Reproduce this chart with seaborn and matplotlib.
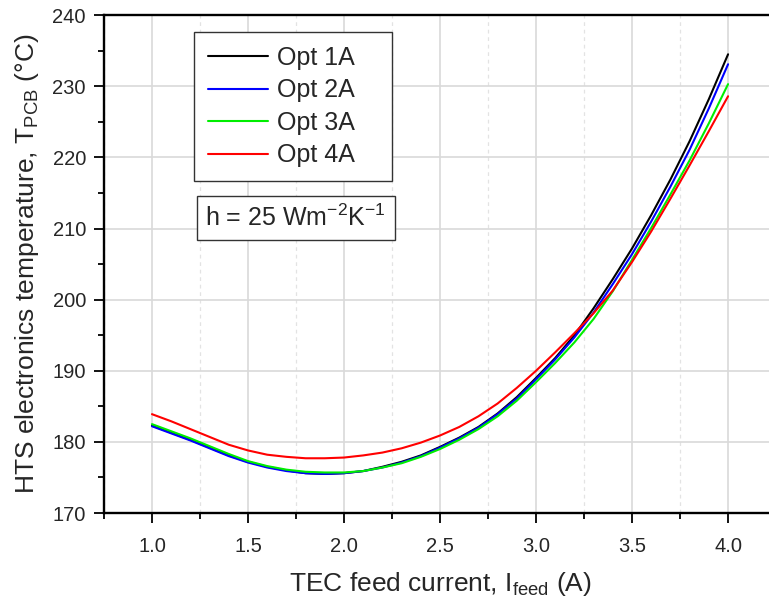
import numpy as np
import pandas as pd
import seaborn as sns
import matplotlib.pyplot as plt
from matplotlib.ticker import MultipleLocator

# data
current = [1.0, 1.1, 1.2, 1.3, 1.4, 1.5, 1.6, 1.7, 1.8, 1.9, 2.0,
           2.1, 2.2, 2.3, 2.4, 2.5, 2.6, 2.7, 2.8, 2.9, 3.0,
           3.1, 3.2, 3.3, 3.4, 3.5, 3.6, 3.7, 3.8, 3.9, 4.0]

opt1a = [182.3, 181.3, 180.3, 179.2, 178.1, 177.2, 176.5, 176.0, 175.6, 175.5, 175.6,
         175.9, 176.5, 177.2, 178.1, 179.3, 180.6, 182.1, 184.0, 186.3, 189.0,
         191.8, 195.0, 198.8, 202.9, 207.2, 211.9, 216.9, 222.3, 228.2, 234.5]
opt2a = [182.2, 181.2, 180.2, 179.1, 178.0, 177.1, 176.4, 175.9, 175.6, 175.5, 175.6,
         175.9, 176.4, 177.1, 178.0, 179.2, 180.5, 182.0, 183.9, 186.1, 188.8,
         191.6, 194.7, 198.2, 202.2, 206.4, 211.0, 215.9, 221.1, 226.9, 233.1]
opt3a = [182.5, 181.5, 180.5, 179.4, 178.3, 177.3, 176.6, 176.1, 175.8, 175.7, 175.7,
         175.9, 176.4, 177.0, 177.9, 179.0, 180.3, 181.8, 183.6, 185.8, 188.4,
         191.1, 194.0, 197.3, 201.2, 205.6, 210.1, 214.8, 219.6, 224.8, 230.3]
opt4a = [183.9, 182.9, 181.8, 180.7, 179.6, 178.8, 178.2, 177.9, 177.7, 177.7, 177.8,
         178.1, 178.5, 179.1, 179.9, 180.9, 182.1, 183.6, 185.4, 187.6, 190.0,
         192.6, 195.3, 198.1, 201.3, 205.3, 209.6, 214.2, 218.9, 223.7, 228.6]

names = ['Opt 1A', 'Opt 2A', 'Opt 3A', 'Opt 4A']
colors = ['#000000', '#0000ff', '#00ee00', '#ff0000']

df = pd.concat([
    pd.DataFrame({'I': current, 'T': vals, 'case': name})
    for name, vals in zip(names, [opt1a, opt2a, opt3a, opt4a])
])

sns.set_theme(style='white')
plt.rcParams['font.family'] = ['Liberation Sans', 'DejaVu Sans']
plt.rcParams['mathtext.fontset'] = 'custom'
plt.rcParams['mathtext.rm'] = 'Liberation Sans'
plt.rcParams['mathtext.it'] = 'Liberation Sans:italic'

fig = plt.figure(figsize=(7.69, 6.02), dpi=100)
ax = fig.add_axes([0.1352, 0.1478, 0.874, 0.827])

sns.lineplot(data=df, x='I', y='T', hue='case', palette=colors, ax=ax,
             linewidth=1.5, errorbar=None, zorder=3)

ax.set_xlim(0.75, 4.25)
ax.set_ylim(170, 240)
ax.xaxis.set_major_locator(MultipleLocator(0.5))
ax.xaxis.set_minor_locator(MultipleLocator(0.25))
ax.yaxis.set_major_locator(MultipleLocator(10))
ax.yaxis.set_minor_locator(MultipleLocator(5))
ax.xaxis.set_major_formatter(plt.FormatStrFormatter('%.1f'))

ax.grid(which='major', color='#d9d9d9', linewidth=1.2, linestyle='-')
ax.grid(which='minor', axis='x', color='#e3e3e3', linewidth=0.9, linestyle=(0, (3, 3)))
ax.set_axisbelow(True)

for side in ['left', 'bottom', 'top', 'right']:
    ax.spines[side].set_color('black')
    ax.spines[side].set_linewidth(1.7)

ax.tick_params(which='major', direction='out', length=7, width=1.3, color='black',
               labelsize=14.5, pad=6, bottom=True, left=True)
ax.tick_params(which='minor', direction='out', length=4.5, width=1.3, color='black',
               bottom=True, left=True)
ax.tick_params(axis='x', which='major', pad=10)

ax.set_xlabel('TEC feed current, I$_{\\mathrm{feed}}$ (A)', fontsize=19, labelpad=10)
ax.set_ylabel('HTS electronics temperature, T$_{\\mathrm{PCB}}$ (°C)', fontsize=19, labelpad=8)

old = ax.get_legend()
handles = old.legend_handles
labels = [t.get_text() for t in old.get_texts()]
leg = ax.legend(handles, labels, loc='upper left', bbox_to_anchor=(0.134, 0.666, 0.295, 0.3),
                mode='expand', fontsize=18, frameon=True, fancybox=False, edgecolor='#333333',
                framealpha=1, handlelength=2.4, handletextpad=0.35,
                labelspacing=0.34, borderpad=0.55, borderaxespad=0)
leg.get_frame().set_linewidth(1.0)
for h in leg.legend_handles:
    h.set_linewidth(1.5)

ax.text(0.285, 0.592, 'h = 25 Wm$^{-2}$K$^{-1}$', transform=ax.transAxes,
        fontsize=18, ha='center', va='center',
        bbox=dict(boxstyle='square,pad=0.35', facecolor='white', edgecolor='#333333', linewidth=1.0))

fig.savefig('out.png', dpi=100)
